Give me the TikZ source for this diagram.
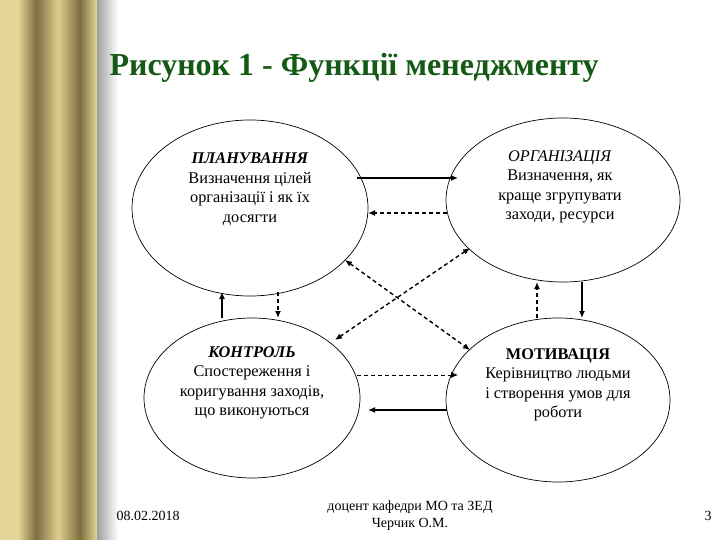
\documentclass[tikz,border=0pt]{standalone}
\usepackage{fontspec}
\setmainfont{Liberation Serif}
\usetikzlibrary{shapes.geometric,arrows.meta}
\definecolor{titlegreen}{RGB}{20,90,20}
\definecolor{golddark}{RGB}{125,110,65}
\definecolor{goldlight}{RGB}{228,214,150}
\begin{document}
\begin{tikzpicture}[x=1pt,y=-1pt,
  bub/.style={draw,ellipse,line width=0.7pt},
  lbl/.style={align=center,font=\fontsize{16.3}{19.5}\selectfont},
  sol/.style={line width=1.4pt,-{Latex[length=7pt,width=6pt]}},
  dsh/.style={line width=1.4pt,dash pattern=on 4pt off 3pt,-{Latex[length=7pt,width=6pt]}},
  dd/.style={line width=1.4pt,dash pattern=on 4pt off 3pt,{Latex[length=7pt,width=6pt]}-{Latex[length=7pt,width=6pt]}}]
\useasboundingbox (0,0) rectangle (720,540);
\fill[white] (0,0) rectangle (720,540);
% border
\fill[goldlight] (0,0) rectangle (18,540);
\shade[left color=goldlight,right color=golddark] (18,0) rectangle (36,540);
\shade[left color=golddark,right color=goldlight!90!brown] (36,0) rectangle (58,540);
\shade[left color=goldlight!90!brown,right color=golddark] (58,0) rectangle (80,540);
\shade[left color=golddark,right color=goldlight] (80,0) rectangle (97,540);
\shade[left color=gray!75,right color=white] (97,0) rectangle (118,540);
% title
\node[anchor=west,text=titlegreen,font=\fontsize{32}{36}\selectfont\bfseries] (title) at (106,68) {Рисунок 1 - Функції менеджменту};
% bubbles
\node[bub,minimum width=236,minimum height=176] (P) at (250,208) {};
\node[bub,minimum width=234,minimum height=164] (O) at (563,200) {};
\node[bub,minimum width=216,minimum height=160] (K) at (252,398) {};
\node[bub,minimum width=224,minimum height=164] (M) at (558,400) {};
\node[lbl] (Pt) at (250,189) {\textit{\textbf{ПЛАНУВАННЯ}}\\Визначення цілей\\організації і як їх\\досягти};
\node[lbl] (Ot) at (560,187) {\textit{ОРГАНІЗАЦІЯ}\\Визначення, як\\краще згрупувати\\заходи, ресурси};
\node[lbl] (Kt) at (252,383) {\textit{\textbf{КОНТРОЛЬ}}\\Спостереження і\\коригування заходів,\\що виконуються};
\node[lbl] (Mt) at (558,385) {\textbf{МОТИВАЦІЯ}\\Керівництво людьми\\і створення умов для\\роботи};
% endpoints
\coordinate (a1) at (357,178); \coordinate (a2) at (458,178);
\coordinate (b1) at (447,213); \coordinate (b2) at (368,213);
\coordinate (c1) at (345,260); \coordinate (c2) at (470,350);
\coordinate (d1) at (470,248); \coordinate (d2) at (335,340);
\coordinate (e1) at (222,318); \coordinate (e2) at (222,292);
\coordinate (f1) at (278,292); \coordinate (f2) at (278,318);
\coordinate (g1) at (537,318); \coordinate (g2) at (537,282);
\coordinate (h1) at (582,282); \coordinate (h2) at (582,318);
\coordinate (i1) at (357,375); \coordinate (i2) at (458,375);
\coordinate (j1) at (447,410); \coordinate (j2) at (368,410);
\draw[sol] (a1) -- (a2);
\draw[dsh] (b1) -- (b2);
\draw[dd] (c1) -- (c2);
\draw[dd] (d1) -- (d2);
\draw[sol] (e1) -- (e2);
\draw[dsh] (f1) -- (f2);
\draw[dsh] (g1) -- (g2);
\draw[sol] (h1) -- (h2);
\draw[dsh,line width=0.8pt] (i1) -- (i2);
\draw[sol] (j1) -- (j2);
% footer
\node[anchor=west,font=\fontsize{14}{16}\selectfont] (date) at (113,516) {08.02.2018};
\node[align=center,font=\fontsize{14}{17}\selectfont] (auth) at (410,516) {доцент кафедри МО та ЗЕД\\Черчик О.М.};
\node[font=\fontsize{14}{16}\selectfont] (pg) at (708,516) {3};
\end{tikzpicture}
\end{document}
